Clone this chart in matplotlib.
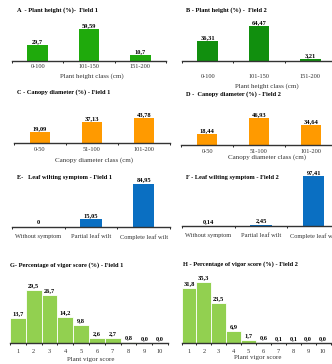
import numpy as np
import matplotlib.pyplot as plt

plt.rcParams['font.family'] = ['Liberation Serif', 'DejaVu Serif']

W, H = 332, 364

# Plant height (%)
height_classes = ['0-100', '101-150', '151-200']
height_f1 = [29.7, 59.59, 10.7]
height_f2 = [36.31, 64.47, 3.21]

# Canopy diameter (%)
canopy_classes = ['0-50', '51-100', '101-200']
canopy_f1 = [19.09, 37.13, 43.78]
canopy_f2 = [18.44, 46.93, 34.64]

# Leaf wilting symptom (%)
wilt_classes = ['Without symptom', 'Partial leaf wilt', 'Complete leaf wilt']
wilt_f1 = [0, 15.05, 84.95]
wilt_f2 = [0.14, 2.45, 97.41]

# Vigor score (%)
vigor_scores = [str(i) for i in range(1, 11)]
vigor_f1 = [13.7, 29.5, 26.7, 14.2, 9.8, 2.6, 2.7, 0.8, 0.0, 0.0]
vigor_f2 = [31.8, 35.3, 23.5, 6.9, 1.7, 0.6, 0.1, 0.1, 0.0, 0.0]


def fmt(v, nd):
    if nd == 0:
        return f"{v:.0f}"
    return f"{v:.{nd}f}".replace('.', ',')


def panel(fig, left, base, width, scale, ymax, cats, vals, color, title, tx, ty,
          xlabel=None, lx=None, ly=None, tick_pad=2, barw=0.4, nd=2, hist=False,
          label_fs=4.6):
    hpx = ymax * scale
    ax = fig.add_axes([left / W, 1 - base / H, width / W, hpx / H])
    x = np.arange(len(cats))
    if hist:
        ax.bar(x, vals, width=1.0, color=color, edgecolor='white', linewidth=0.6)
    else:
        ax.bar(x, vals, width=barw, color=color)
    ax.set_xlim(-0.5, len(cats) - 0.5)
    ax.set_ylim(0, ymax)
    for s in ['top', 'right', 'left']:
        ax.spines[s].set_visible(False)
    ax.spines['bottom'].set_linewidth(1.0)
    ax.spines['bottom'].set_color('#333333')
    ax.set_yticks([])
    ax.set_xticks(x)
    ax.set_xticklabels(cats, fontsize=label_fs, color='#333333')
    ax.tick_params(axis='x', which='major', length=0, pad=tick_pad)
    ax.set_xticks(np.arange(len(cats) + 1) - 0.5, minor=True)
    ax.tick_params(axis='x', which='minor', length=1.5, width=0.6, direction='out')
    if not isinstance(nd, list):
        nd = [nd] * len(vals)
    for xi, v in zip(x, vals):
        ax.text(xi, v + ymax * 0.03, fmt(v, nd[xi]),
                ha='center', va='bottom', fontsize=4.6, fontweight='bold')
    fig.text(tx / W, 1 - ty / H, title, fontsize=4.6, fontweight='bold', va='center')
    if xlabel:
        fig.text(lx / W, 1 - ly / H, xlabel, fontsize=5, ha='center', va='center',
                 color='#333333')
    ax.patch.set_alpha(0)
    return ax


fig = plt.figure(figsize=(W / 100, H / 100), dpi=100)

panel(fig, 12, 61, 154, 0.54, 75, height_classes, height_f1, '#1faa0c',
      'A  - Plant height (%)-  Field 1', 17, 10,
      'Plant height class (cm)', 92, 76, tick_pad=2, nd=[1, 2, 1])
panel(fig, 182, 61, 154, 0.54, 75, height_classes, height_f2, '#118f0e',
      'B - Plant height (%) -  Field 2', 186, 10,
      'Plant height class (cm)', 267, 86, tick_pad=9)

panel(fig, 14, 143, 156, 0.57, 55, canopy_classes, canopy_f1, '#ff9a00',
      'C - Canopy diameter (%) - Field 1', 17, 92,
      'Canopy diameter class (cm)', 94, 160, tick_pad=3)
panel(fig, 181, 145, 156, 0.57, 55, canopy_classes, canopy_f2, '#ff9a00',
      'D -  Canopy diameter (%) - Field 2', 186, 94,
      'Canopy diameter class (cm)', 267, 157, tick_pad=3)

panel(fig, 12, 227, 158, 0.51, 100, wilt_classes, wilt_f1, '#0a6fc2',
      'E-   Leaf wilting symptom - Field 1', 17, 177,
      tick_pad=5, nd=[0, 2, 2])
panel(fig, 182, 226, 158, 0.51, 100, wilt_classes, wilt_f2, '#0a6fc2',
      'F - Leaf wilting symptom - Field 2', 186, 177,
      tick_pad=5)

panel(fig, 10, 343, 158, 1.8, 36, vigor_scores, vigor_f1, '#92d050',
      'G- Percentage of vigor score (%) - Field 1', 10, 265,
      'Plant vigor score', 91, 359, tick_pad=4, nd=1, hist=True)
panel(fig, 181.5, 343, 149, 1.72, 38, vigor_scores, vigor_f2, '#92d050',
      'H - Percentage of vigor score (%) - Field 2', 183, 264,
      'Plant vigor score', 258, 357, tick_pad=4, nd=1, hist=True)

fig.savefig('out.png', dpi=100)
